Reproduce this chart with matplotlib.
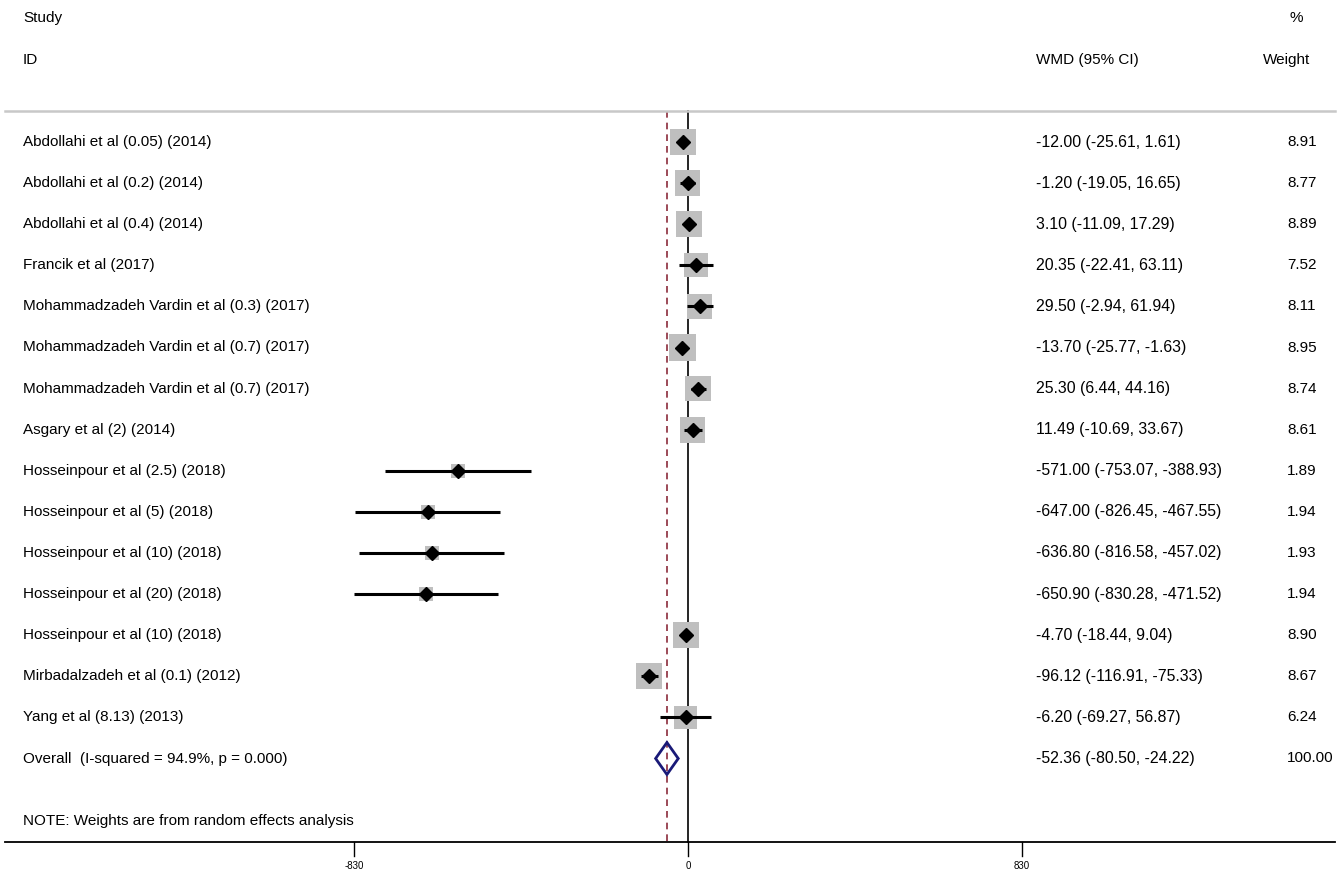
import numpy as np
import matplotlib
matplotlib.use("Agg")
import matplotlib.pyplot as plt
from matplotlib.transforms import blended_transform_factory

plt.rcParams['font.family'] = ['Liberation Sans', 'DejaVu Sans']

studies = [
    "Abdollahi et al (0.05) (2014)",
    "Abdollahi et al (0.2) (2014)",
    "Abdollahi et al (0.4) (2014)",
    "Francik et al (2017)",
    "Mohammadzadeh Vardin et al (0.3) (2017)",
    "Mohammadzadeh Vardin et al (0.7) (2017)",
    "Mohammadzadeh Vardin et al (0.7) (2017)",
    "Asgary et al (2) (2014)",
    "Hosseinpour et al (2.5) (2018)",
    "Hosseinpour et al (5) (2018)",
    "Hosseinpour et al (10) (2018)",
    "Hosseinpour et al (20) (2018)",
    "Hosseinpour et al (10) (2018)",
    "Mirbadalzadeh et al (0.1) (2012)",
    "Yang et al (8.13) (2013)",
]
wmd = [-12.00, -1.20, 3.10, 20.35, 29.50, -13.70, 25.30, 11.49,
       -571.00, -647.00, -636.80, -650.90, -4.70, -96.12, -6.20]
lower = [-25.61, -19.05, -11.09, -22.41, -2.94, -25.77, 6.44, -10.69,
         -753.07, -826.45, -816.58, -830.28, -18.44, -116.91, -69.27]
upper = [1.61, 16.65, 17.29, 63.11, 61.94, -1.63, 44.16, 33.67,
         -388.93, -467.55, -457.02, -471.52, 9.04, -75.33, 56.87]
weights = [8.91, 8.77, 8.89, 7.52, 8.11, 8.95, 8.74, 8.61,
           1.89, 1.94, 1.93, 1.94, 8.90, 8.67, 6.24]

overall_label = "Overall  (I-squared = 94.9%, p = 0.000)"
overall = (-52.36, -80.50, -24.22)
tick_vals = [-830, 0, 830]

W, H, DPI = 1340, 873, 100
fig = plt.figure(figsize=(W / DPI, H / DPI), dpi=DPI)
ax = fig.add_axes([0, 0, 1, 1])
ax.axis('off')

# data units -> pixels: 0 sits at x=688, 830 units span 334 px
scale = 334 / 830.0
x0 = 688
ax.set_xlim(-x0 / scale, (W - x0) / scale)
ax.set_ylim(H, 0)  # y in pixel rows, top down

tr = blended_transform_factory(ax.transAxes, ax.transData)
fs = 11
fs_ci = 11.4

row0, step = 142, 41.1
ys = row0 + step * np.arange(len(studies))
y_over = row0 + step * len(studies)
y_top, y_axis = 111, 842

# header
ax.text(23 / W, 18, "Study", transform=tr, fontsize=fs, va='center')
ax.text(23 / W, 60, "ID", transform=tr, fontsize=fs, va='center')
ax.text(1036 / W, 60, "WMD (95% CI)", transform=tr, fontsize=fs, va='center')
ax.text(1290 / W, 18, "%", transform=tr, fontsize=fs, va='center')
ax.text(1263 / W, 60, "Weight", transform=tr, fontsize=fs, va='center')
ax.plot([5 / W, 1335 / W], [y_top, y_top], transform=tr, color='#c8c8c8', lw=1.8)

# reference lines
ax.plot([0, 0], [y_top, y_axis], color='black', lw=1.2, zorder=1)
ax.plot([overall[0], overall[0]], [y_top, y_axis], color='#8b2b3b', lw=1.2,
        dashes=(4, 3), zorder=1)

# study rows: grey box sized by weight, CI line, point estimate
for i, y in enumerate(ys):
    side_pt = (3.75 + 7.45 * np.sqrt(weights[i])) * 0.72
    ax.scatter(wmd[i], y, marker='s', s=side_pt ** 2, color='#bfbfbf',
               edgecolors='none', zorder=2)
    ax.plot([lower[i], upper[i]], [y, y], color='black', lw=2.2,
            solid_capstyle='butt', zorder=3)
    ax.plot(wmd[i], y, marker='D', ms=7.5, color='black', zorder=4)
    ax.text(23 / W, y, studies[i], transform=tr, fontsize=fs, va='center')
    ax.text(1036 / W, y, f"{wmd[i]:.2f} ({lower[i]:.2f}, {upper[i]:.2f})",
            transform=tr, fontsize=fs_ci, va='center')
    ax.text(1287 / W, y, f"{weights[i]:.2f}", transform=tr, fontsize=fs,
            va='center')

# pooled estimate
est, lo, hi = overall
half_h = 16
ax.fill([lo, est, hi, est, lo], [y_over, y_over - half_h, y_over, y_over + half_h, y_over],
        facecolor='none', edgecolor='#1a1a78', lw=2, zorder=4)
ax.text(23 / W, y_over, overall_label, transform=tr, fontsize=fs, va='center')
ax.text(1036 / W, y_over, f"{est:.2f} ({lo:.2f}, {hi:.2f})", transform=tr,
        fontsize=fs_ci, va='center')
ax.text(1287 / W, y_over, "100.00", transform=tr, fontsize=fs, va='center')

ax.text(23 / W, 821, "NOTE: Weights are from random effects analysis",
        transform=tr, fontsize=fs, va='center')

# x axis
ax.plot([5 / W, 1335 / W], [y_axis, y_axis], transform=tr, color='black', lw=1.3)
for t in tick_vals:
    ax.plot([t, t], [y_axis, y_axis + 14], color='black', lw=1)
    ax.text(t, 866, str(t), fontsize=7, ha='center', va='center')

fig.savefig("out.png", dpi=DPI, facecolor='white')
